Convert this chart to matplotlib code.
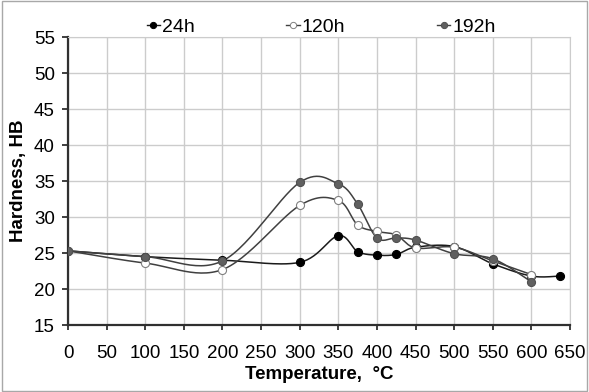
import matplotlib.pyplot as plt
import numpy as np
from matplotlib.patches import Rectangle
from matplotlib.lines import Line2D

plt.rcParams['font.family'] = ['Liberation Sans', 'DejaVu Sans']

# data
temp_24 = [0, 100, 200, 300, 350, 375, 400, 425, 450, 500, 550, 600, 637]
hb_24 = [25.3, 24.5, 24.0, 23.7, 27.4, 25.2, 24.7, 24.8, 25.8, 25.9, 23.5, 21.8, 21.8]

temp_120 = [0, 100, 200, 300, 350, 375, 400, 425, 450, 500, 550, 600]
hb_120 = [25.3, 23.6, 22.7, 31.6, 32.3, 28.9, 28.0, 27.5, 25.7, 25.8, 23.9, 22.0]

temp_192 = [0, 100, 200, 300, 350, 375, 400, 425, 450, 500, 550, 600]
hb_192 = [25.3, 24.5, 23.9, 34.8, 34.6, 31.8, 27.1, 27.1, 26.8, 24.9, 24.2, 21.0]

labels = ['24h', '120h', '192h']
xticks = list(range(0, 651, 50))
yticks = list(range(15, 56, 5))


def smooth(x, y, n=30):
    # Excel-like smoothed line (Catmull-Rom bezier between points)
    x = np.asarray(x, float)
    y = np.asarray(y, float)
    px, py = [], []
    for i in range(len(x) - 1):
        x0, y0 = (x[i - 1], y[i - 1]) if i > 0 else (x[i], y[i])
        x3, y3 = (x[i + 2], y[i + 2]) if i + 2 < len(x) else (x[i + 1], y[i + 1])
        x1, y1, x2, y2 = x[i], y[i], x[i + 1], y[i + 1]
        c1x, c1y = x1 + (x2 - x0) / 6, y1 + (y2 - y0) / 6
        c2x, c2y = x2 - (x3 - x1) / 6, y2 - (y3 - y1) / 6
        t = np.linspace(0, 1, n)
        px.extend((1 - t) ** 3 * x1 + 3 * (1 - t) ** 2 * t * c1x + 3 * (1 - t) * t ** 2 * c2x + t ** 3 * x2)
        py.extend((1 - t) ** 3 * y1 + 3 * (1 - t) ** 2 * t * c1y + 3 * (1 - t) * t ** 2 * c2y + t ** 3 * y2)
    return px, py


fig = plt.figure(figsize=(5.89, 3.92), dpi=100)
ax = fig.add_axes([68 / 589, 1 - 325 / 392, 502 / 589, 288 / 392])
fig.patches.append(Rectangle((0.003, 0.003), 0.994, 0.994, transform=fig.transFigure,
                             fill=False, edgecolor='#a8a8a8', linewidth=1))

series = [
    (temp_24, hb_24, '#1a1a1a', 'black', 'black'),
    (temp_120, hb_120, '#404040', 'white', '#808080'),
    (temp_192, hb_192, '#404040', '#606060', '#505050'),
]
handles = []
for (tx, hy, lc, fc, ec), lab in zip(series, labels):
    sx, sy = smooth(tx, hy)
    ax.plot(sx, sy, color=lc, linewidth=1.1, zorder=3)
    ax.plot(tx, hy, linestyle='none', marker='o', markersize=5.8,
            markerfacecolor=fc, markeredgecolor=ec, markeredgewidth=0.8, zorder=4)
    handles.append(Line2D([], [], color=lc, linewidth=1.0, marker='o', markersize=4.5,
                          markerfacecolor=fc, markeredgecolor=ec, markeredgewidth=0.7, label=lab))

ax.set_xlim(0, 650)
ax.set_ylim(15, 55)
ax.set_xticks(xticks)
ax.set_yticks(yticks)
ax.grid(True, color='#cccccc', linewidth=1)
ax.set_axisbelow(True)
for s in ['top', 'right']:
    ax.spines[s].set_color('#cccccc')
for s in ['left', 'bottom']:
    ax.spines[s].set_color('#303030')
    ax.spines[s].set_linewidth(1.6)
ax.tick_params(labelsize=13.5, length=4.5, width=1.3, color='#303030', direction='out')
ax.tick_params(axis='x', length=3.6, pad=10.5)
ax.tick_params(axis='y', pad=5)

ax.set_xlabel('Temperature,  °C', fontsize=13.5, fontweight='bold', labelpad=3.5)
ax.set_ylabel('Hardness, HB', fontsize=13.5, fontweight='bold', labelpad=5)

fig.legend(handles=handles, loc='upper left', bbox_to_anchor=(131 / 589, 0.992), ncol=3,
           frameon=False, fontsize=14, handlelength=0.7, handletextpad=0.1,
           columnspacing=4.7, borderpad=0.3)

fig.savefig('out.png', dpi=100)
